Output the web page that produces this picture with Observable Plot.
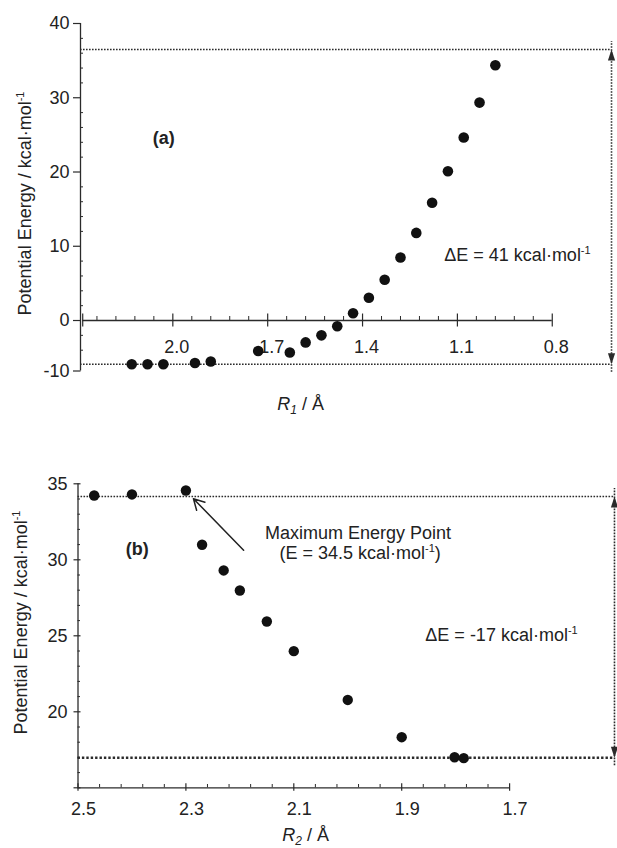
<!DOCTYPE html>
<html>
<head>
<meta charset="utf-8">
<script src="https://cdn.jsdelivr.net/npm/d3@7"></script>
<script src="https://cdn.jsdelivr.net/npm/@observablehq/plot@0.6"></script>
<style>
  html, body { margin: 0; padding: 0; background: #fff; }
  #chart { width: 617px; }
  #chart svg { display: block; }
</style>
</head>
<body>
<div id="chart"></div>
<script>
// ---------- Panel (a): energy vs R1 ----------
const r1 = [2.13, 2.08, 2.03, 1.93, 1.88, 1.73, 1.63, 1.58, 1.53, 1.48, 1.43, 1.38, 1.33, 1.28, 1.23, 1.18, 1.13, 1.08, 1.03, 0.98];
const energyA = [-5.9, -5.9, -5.9, -5.72, -5.52, -4.1, -4.3, -2.95, -2.0, -0.77, 0.98, 3.06, 5.48, 8.48, 11.8, 15.85, 20.1, 24.65, 29.35, 34.38];

const xDomainA = [2.292, 0.6];
const yDomainA = [-6.8, 40];
const xAxisSpanA = [2.285, 0.8];
const xTicksA = [2.0, 1.7, 1.4, 1.1, 0.8];
const xTickLabelsA = ["2.0", "1.7", "1.4", "1.1", "0.8"];
const xMajorA = [2.285, 2.0, 1.7, 1.4, 1.1, 0.8];
const xMinorA = [2.24, 2.18, 2.12, 2.06, 1.94, 1.88, 1.82, 1.76, 1.64, 1.58, 1.52, 1.46, 1.34, 1.28, 1.22, 1.16, 1.04, 0.98, 0.92, 0.86];
const yTicksA = [-6.8, 0, 10, 20, 30, 40];
const yTickLabelsA = ["-10", "0", "10", "20", "30", "40"];
const yMinorA = [-4, -2, 2, 4, 6, 8, 12, 14, 16, 18, 22, 24, 26, 28, 32, 34, 36, 38];
const levelsA = [36.5, -5.9];          // dotted reference levels
const arrowXA = 0.6126;                // vertical double arrow position
const labelA = {x: 2.029, y: 24.6, text: "(a)"};
const deltaA = {x: 0.91, y: 8.75, text: "ΔE = 41 kcal·mol⁻¹"};
const xTitleA = {x: 1.596, text: "R₁ / Å"};
const yTitleA = {y: 15.76, text: "Potential Energy / kcal·mol⁻¹"};

// ---------- Panel (b): energy vs R2 ----------
const r2 = [2.47, 2.40, 2.30, 2.27, 2.23, 2.20, 2.15, 2.10, 2.00, 1.90, 1.802, 1.785];
const energyB = [34.23, 34.30, 34.56, 30.99, 29.30, 27.98, 25.94, 23.99, 20.78, 18.33, 17.01, 16.95];

const xDomainB = [2.5, 1.5];
const yDomainB = [15, 35];
const xAxisSpanB = [2.5, 1.7];
const xTicksB = [2.5, 2.3, 2.1, 1.9, 1.7];
const xTickLabelsB = ["2.5", "2.3", "2.1", "1.9", "1.7"];
const xMinorB = [2.46, 2.42, 2.38, 2.34, 2.26, 2.22, 2.18, 2.14, 2.06, 2.02, 1.98, 1.94, 1.86, 1.82, 1.78, 1.74];
const yTicksB = [20, 25, 30, 35];
const yTickLabelsB = ["20", "25", "30", "35"];
const yMajorB = [15, 20, 25, 30, 35];
const yMinorB = [16, 17, 18, 19, 21, 22, 23, 24, 26, 27, 28, 29, 31, 32, 33, 34];
const levelsB = [34.16, 16.98];
const arrowXB = 1.5056;
const labelB = {x: 2.39, y: 30.72, text: "(b)"};
const maxNote = [
  {x: 1.981, y: 31.78, text: "Maximum Energy Point"},
  {x: 1.977, y: 30.45, text: "(E = 34.5 kcal·mol⁻¹)"}
];
const maxArrow = [{x1: 2.193, y1: 30.63, x2: 2.286, y2: 34.02}];
const deltaB = {x: 1.715, y: 25.02, text: "ΔE = -17 kcal·mol⁻¹"};
const xTitleB = {x: 2.078, text: "R₂ / Å"};
const yTitleB = {y: 25.875, text: "Potential Energy / kcal·mol⁻¹"};

// ---------- styling ----------
const font = "'Liberation Sans', Arial, Helvetica, sans-serif";
const ink = "#222";
const axisInk = "#2b2b2b";
const fs = 18;

const triUp = {draw(c) { c.moveTo(0, 0); c.lineTo(3.6, 11); c.lineTo(-3.6, 11); c.closePath(); }};
const triDown = {draw(c) { c.moveTo(0, 0); c.lineTo(3.6, -11); c.lineTo(-3.6, -11); c.closePath(); }};

function panel(cfg) {
  const {
    height, margins, xDomain, yDomain, xs, ys, xAxisSpan, xAxisY, xTicks, xTickLabels, xMajor, xMinor,
    yTicks, yTickLabels, yMajor, yMinor, xMajorIn, xMajorOut, xMinorLen, yMajorOut, yMajorIn, yMinorLen,
    xLabelDy, xLabelDx, yLabelDx, levels, lowerLevelStyle, arrowX, texts, bold, xTitle, xTitleDy, yTitle, yTitleDx, r, extra
  } = cfg;
  const yAxisX = xDomain[0];
  const dotted = {stroke: axisInk, strokeWidth: 1.6, strokeDasharray: "1.6,1.4"};
  return Plot.plot({
    width: 617,
    height,
    ...margins,
    x: {domain: xDomain, axis: null},
    y: {domain: yDomain, axis: null},
    style: {fontFamily: font, color: ink, background: "white", overflow: "visible"},
    marks: [
      // reference levels (dotted)
      Plot.ruleY([levels[0]], {x1: yAxisX, x2: arrowX, ...dotted}),
      Plot.ruleY([levels[1]], {x1: yAxisX, x2: arrowX, ...dotted, ...lowerLevelStyle}),
      // vertical double arrow
      Plot.ruleX([arrowX], {y1: levels[1], y2: levels[0], ...dotted, insetTop: 8, insetBottom: 8}),
      Plot.dot([levels[0]], {x: () => arrowX, y: d => d, symbol: triUp, fill: axisInk, stroke: "none"}),
      Plot.dot([levels[1]], {x: () => arrowX, y: d => d, symbol: triDown, fill: axisInk, stroke: "none"}),
      // y axis
      Plot.ruleX([yAxisX], {y1: yDomain[0], y2: yDomain[1], stroke: axisInk, strokeWidth: 1.3}),
      Plot.ruleY(yMajor, {x1: yAxisX, x2: yAxisX, insetLeft: -yMajorOut, insetRight: -yMajorIn, stroke: axisInk, strokeWidth: 1.2}),
      Plot.ruleY(yMinor, {x1: yAxisX, x2: yAxisX, insetLeft: 0, insetRight: -yMinorLen, stroke: axisInk, strokeWidth: 1}),
      Plot.text(yTicks, {y: d => d, text: (d, i) => yTickLabels[i], frameAnchor: "left", dx: yLabelDx, textAnchor: "end", lineAnchor: "middle", fontSize: fs, fill: ink}),
      // x axis
      Plot.ruleY([xAxisY], {x1: xAxisSpan[0], x2: xAxisSpan[1], stroke: axisInk, strokeWidth: 1.3}),
      Plot.ruleX(xMajor, {y1: xAxisY, y2: xAxisY, insetTop: -xMajorIn, insetBottom: -xMajorOut, stroke: axisInk, strokeWidth: 1.2}),
      Plot.ruleX(xMinor, {y1: xAxisY, y2: xAxisY, insetTop: -xMinorLen, insetBottom: 0, stroke: axisInk, strokeWidth: 1}),
      Plot.text(xTicks, {x: d => d, y: () => xAxisY, text: (d, i) => xTickLabels[i], dy: xLabelDy, dx: xLabelDx, textAnchor: "middle", lineAnchor: "middle", fontSize: fs, fill: ink}),
      // data points
      Plot.dot(xs.map((x, i) => ({x, y: ys[i]})), {x: "x", y: "y", r, fill: "#111", stroke: "none"}),
      // annotations
      ...(extra || []),
      Plot.text(texts, {x: "x", y: "y", text: "text", textAnchor: "middle", lineAnchor: "middle", fontSize: fs, fill: ink}),
      Plot.text([bold], {x: "x", y: "y", text: "text", textAnchor: "middle", lineAnchor: "middle", fontSize: fs, fontWeight: "bold", fill: ink}),
      Plot.text([xTitle], {x: "x", text: "text", frameAnchor: "bottom", dy: xTitleDy, textAnchor: "middle", lineAnchor: "middle", fontSize: fs, fill: ink}),
      Plot.text([yTitle], {y: "y", text: "text", frameAnchor: "left", dx: yTitleDx, rotate: -90, textAnchor: "middle", lineAnchor: "middle", fontSize: fs, fill: ink})
    ]
  });
}

const plotA = panel({
  height: 420,
  margins: {marginTop: 23, marginBottom: 49.5, marginLeft: 80, marginRight: 2},
  xDomain: xDomainA, yDomain: yDomainA, xs: r1, ys: energyA,
  xAxisSpan: xAxisSpanA, xAxisY: 0, xTicks: xTicksA, xTickLabels: xTickLabelsA, xMajor: xMajorA, xMinor: xMinorA,
  yTicks: yTicksA, yTickLabels: yTickLabelsA, yMajor: yTicksA, yMinor: yMinorA,
  xMajorIn: 6.5, xMajorOut: 6.5, xMinorLen: 4, yMajorOut: 7, yMajorIn: 0.5, yMinorLen: 3,
  xLabelDy: 27, xLabelDx: 4, yLabelDx: -11,
  levels: levelsA, lowerLevelStyle: {}, arrowX: arrowXA,
  texts: [deltaA], bold: labelA, xTitle: xTitleA, xTitleDy: 33, yTitle: yTitleA, yTitleDx: -55, r: 5.3
});

const plotB = panel({
  height: 428,
  margins: {marginTop: 63.3, marginBottom: 60.7, marginLeft: 77.5, marginRight: 0},
  xDomain: xDomainB, yDomain: yDomainB, xs: r2, ys: energyB,
  xAxisSpan: xAxisSpanB, xAxisY: 15, xTicks: xTicksB, xTickLabels: xTickLabelsB, xMajor: xTicksB, xMinor: xMinorB,
  yTicks: yTicksB, yTickLabels: yTickLabelsB, yMajor: yMajorB, yMinor: yMinorB,
  xMajorIn: 4, xMajorOut: 3.5, xMinorLen: 3.3, yMajorOut: 4, yMajorIn: 3, yMinorLen: 2.5,
  xLabelDy: 21, xLabelDx: 5.5, yLabelDx: -10.5,
  levels: levelsB, lowerLevelStyle: {strokeWidth: 2.6, strokeDasharray: "2.4,2"}, arrowX: arrowXB,
  texts: [...maxNote, deltaB], bold: labelB, xTitle: xTitleB, xTitleDy: 47.7, yTitle: yTitleB, yTitleDx: -56.5, r: 5.2,
  extra: [Plot.arrow(maxArrow, {x1: "x1", y1: "y1", x2: "x2", y2: "y2", stroke: ink, strokeWidth: 1.5, headLength: 12, headAngle: 58})]
});

// Render superscripts / subscripts / italics as real SVG tspans
function richText(svg) {
  const ns = "http://www.w3.org/2000/svg";
  svg.querySelectorAll("text").forEach(t => {
    const s = t.textContent;
    if (!/⁻¹|R[₁₂]/.test(s) || t.querySelector("tspan")) return;
    const parts = s.split(/(⁻¹|R[₁₂])/);
    t.textContent = "";
    let cur = 0;
    const add = (str, target, attrs = {}) => {
      const ts = document.createElementNS(ns, "tspan");
      ts.textContent = str;
      if (target !== cur) ts.setAttribute("dy", String(target - cur));
      cur = target;
      for (const [k, v] of Object.entries(attrs)) ts.setAttribute(k, v);
      t.appendChild(ts);
    };
    for (const p of parts) {
      if (!p) continue;
      if (p === "⁻¹") add("-1", -7, {"font-size": 11});
      else if (/^R[₁₂]$/.test(p)) {
        add("R", 0, {"font-style": "italic"});
        add(p[1] === "₁" ? "1" : "2", 4, {"font-size": 12, "font-style": "italic"});
      } else add(p, 0);
    }
  });
}
richText(plotA);
richText(plotB);

const chart = document.getElementById("chart");
chart.appendChild(plotA);
chart.appendChild(plotB);
</script>
</body>
</html>
